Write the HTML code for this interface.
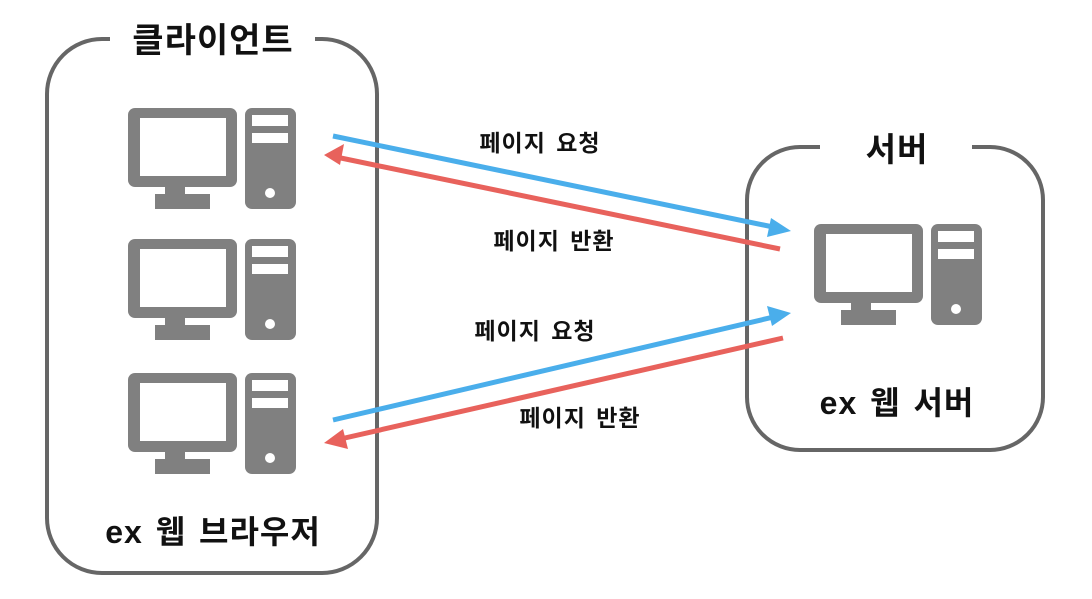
<!DOCTYPE html>
<html><head><meta charset="utf-8"><style>
html,body{margin:0;padding:0;background:#fff;}
body{width:1092px;height:594px;overflow:hidden;}
text{font-family:"Liberation Sans","Noto Sans CJK KR",sans-serif;font-weight:bold;fill:#111;}
</style></head><body>
<svg width="1092" height="594" viewBox="0 0 1092 594" xmlns="http://www.w3.org/2000/svg">
<defs>
<g id="pc">
  <rect x="0" y="0" width="109" height="79" rx="7" fill="#808080"/>
  <rect x="12" y="10" width="86" height="58" fill="#fff"/>
  <rect x="37" y="78" width="20" height="10" fill="#808080"/>
  <rect x="27" y="86" width="55" height="15" fill="#808080"/>
  <rect x="117" y="0" width="51" height="101" rx="7" fill="#808080"/>
  <rect x="124" y="7" width="36" height="11" fill="#fff"/>
  <rect x="124" y="25" width="36" height="10" fill="#fff"/>
  <circle cx="142" cy="85" r="5" fill="#fff"/>
</g>
</defs>
<path d="M110 39 H102 A55 55 0 0 0 47 94 V518 A55 55 0 0 0 102 573 H322 A55 55 0 0 0 377 518 V94 A55 55 0 0 0 322 39 H315" fill="none" stroke="#666" stroke-width="4"/>
<text x="213" y="52" font-size="34" letter-spacing="1" text-anchor="middle">클라이언트</text>
<use href="#pc" x="128" y="108"/>
<use href="#pc" x="128" y="239"/>
<use href="#pc" x="128" y="373"/>
<text x="213" y="543" font-size="32" letter-spacing="1" word-spacing="3" text-anchor="middle">ex 웹 브라우저</text>
<path d="M820 147 H800 A53 53 0 0 0 747 200 V397 A53 53 0 0 0 800 450 H990 A53 53 0 0 0 1043 397 V200 A53 53 0 0 0 990 147 H972" fill="none" stroke="#666" stroke-width="4"/>
<text x="897" y="161" font-size="33" letter-spacing="1" text-anchor="middle">서버</text>
<use href="#pc" x="814" y="224"/>
<text x="897" y="414" font-size="32" letter-spacing="1" word-spacing="3" text-anchor="middle">ex 웹 서버</text>
<g stroke-width="5" fill="none">
<line x1="333" y1="136" x2="778" y2="228" stroke="#4AAEEB"/>
<line x1="780" y1="249" x2="336" y2="157" stroke="#E8625C"/>
<line x1="333" y1="420" x2="778" y2="316" stroke="#4AAEEB"/>
<line x1="783" y1="338" x2="336" y2="440" stroke="#E8625C"/>
</g>
<polygon points="791,231 771,218 767,237" fill="#4AAEEB"/>
<polygon points="324,155 344,144 340,165" fill="#E8625C"/>
<polygon points="791,313 767,306 772,326" fill="#4AAEEB"/>
<polygon points="324,443 343,429 348,449" fill="#E8625C"/>
<text x="540" y="151" font-size="23" letter-spacing="1" word-spacing="3" text-anchor="middle">페이지 요청</text>
<text x="554" y="249" font-size="23" letter-spacing="1" word-spacing="3" text-anchor="middle">페이지 반환</text>
<text x="535" y="339" font-size="23" letter-spacing="1" word-spacing="3" text-anchor="middle">페이지 요청</text>
<text x="580" y="426" font-size="23" letter-spacing="1" word-spacing="3" text-anchor="middle">페이지 반환</text>
</svg>
</body></html>
